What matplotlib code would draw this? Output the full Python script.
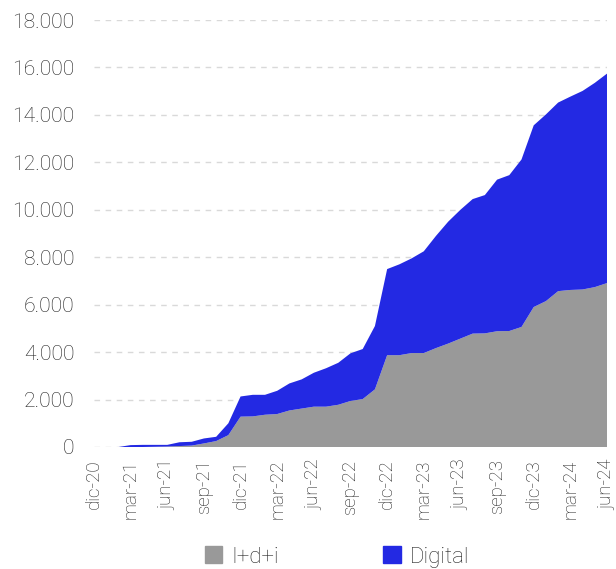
import matplotlib
matplotlib.use("Agg")
import matplotlib.pyplot as plt
from matplotlib.patches import Patch
import numpy as np

# monthly data, dic-20 .. jun-24
months = ["dic-20", "ene-21", "feb-21", "mar-21", "abr-21", "may-21", "jun-21",
          "jul-21", "ago-21", "sep-21", "oct-21", "nov-21", "dic-21",
          "ene-22", "feb-22", "mar-22", "abr-22", "may-22", "jun-22",
          "jul-22", "ago-22", "sep-22", "oct-22", "nov-22", "dic-22",
          "ene-23", "feb-23", "mar-23", "abr-23", "may-23", "jun-23",
          "jul-23", "ago-23", "sep-23", "oct-23", "nov-23", "dic-23",
          "ene-24", "feb-24", "mar-24", "abr-24", "may-24", "jun-24"]

idi = [0, 0, 0, 0, 0, 10, 20,
       40, 60, 150, 250, 500, 1280,
       1290, 1360, 1390, 1540, 1620, 1700,
       1700, 1780, 1940, 2020, 2430, 3870,
       3870, 3960, 3960, 4170, 4360, 4570,
       4780, 4790, 4880, 4890, 5060, 5900,
       6150, 6570, 6620, 6640, 6740, 6910]

total = [0, 0, 0, 80, 90, 90, 90,
         200, 220, 360, 430, 1000, 2130,
         2200, 2200, 2370, 2680, 2850, 3130,
         3320, 3550, 3950, 4130, 5100, 7500,
         7700, 7950, 8250, 8900, 9500, 10000,
         10450, 10620, 11270, 11460, 12120, 13560,
         14020, 14520, 14770, 15010, 15350, 15740]

digital = [t - g for t, g in zip(total, idi)]

c_idi = "#999999"
c_dig = "#2329e3"
txt = "#222222"

plt.rcParams['font.family'] = ['Roboto', 'DejaVu Sans']

fig = plt.figure(figsize=(6.16, 5.69), dpi=100)
ax = fig.add_axes([94 / 616, 1 - 447 / 569, (607 - 94) / 616, (447 - 20) / 569])

x = np.arange(len(months))
ax.stackplot(x, idi, digital, colors=[c_idi, c_dig], linewidth=0)

ax.set_xlim(0, len(months) - 1)
ax.set_ylim(0, 18000)
yt = np.arange(0, 18001, 2000)
ax.set_yticks(yt)
ax.set_yticklabels([f"{v:,.0f}".replace(",", ".") for v in yt],
                   fontsize=15.2, color=txt, fontweight='light')
ax.set_xticks(x[::3])
ax.set_xticklabels(months[::3], rotation=90, fontsize=13.5, color=txt,
                   fontweight='light')
ax.tick_params(axis='y', length=0, pad=14)
ax.tick_params(axis='x', length=0, pad=9)

ax.grid(axis='y', color="#d9d9d9", linestyle=(0, (4, 4)), linewidth=1)
ax.set_axisbelow(True)
for s in ax.spines.values():
    s.set_visible(False)

handles = [Patch(color=c_idi, label="I+d+i"), Patch(color=c_dig, label="Digital")]
fig.legend(handles=handles, loc="center", bbox_to_anchor=(337 / 616, 1 - 557 / 569),
           ncol=2, frameon=False, handlelength=0.8, handleheight=0.8,
           handletextpad=0.4, columnspacing=4.7,
           prop={'size': 16, 'weight': 'light'}, labelcolor=txt)

fig.savefig("out.png", dpi=100)
